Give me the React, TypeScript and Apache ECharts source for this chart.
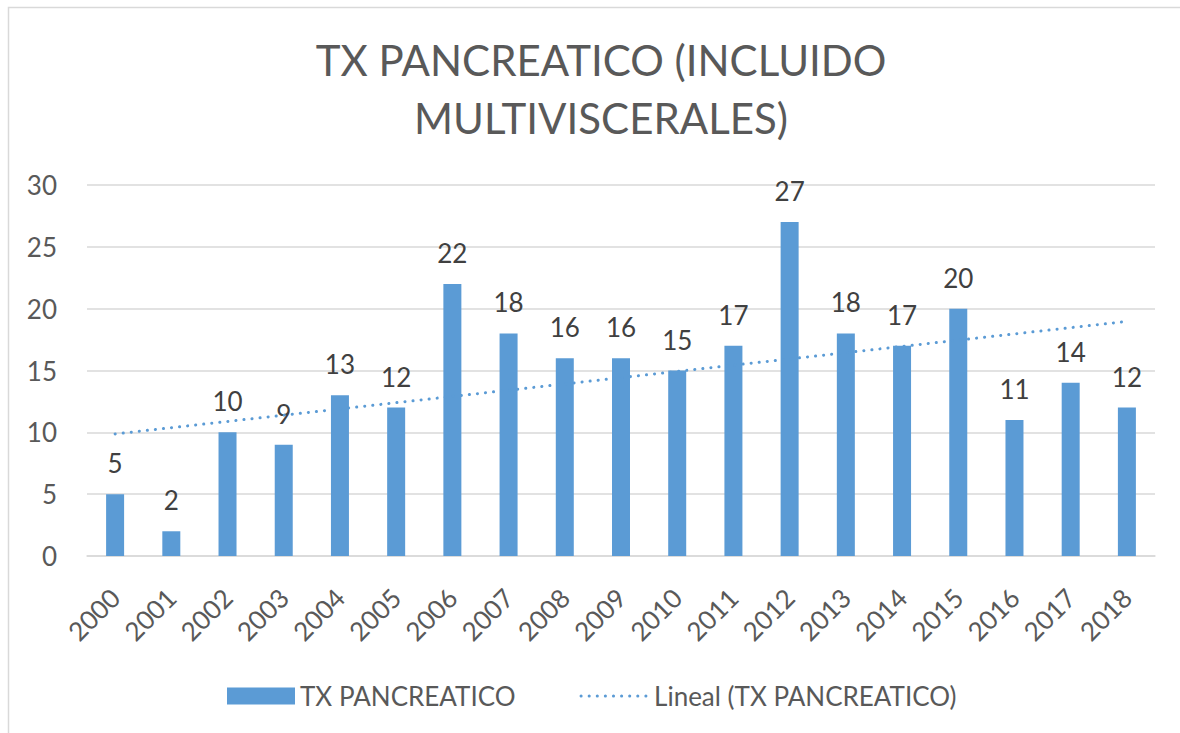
import React, { useEffect, useRef } from "react";
import * as echarts from "echarts";

const years = ["2000","2001","2002","2003","2004","2005","2006","2007","2008","2009","2010","2011","2012","2013","2014","2015","2016","2017","2018"];
const values = [5, 2, 10, 9, 13, 12, 22, 18, 16, 16, 15, 17, 27, 18, 17, 20, 11, 14, 12];
// Linear trendline endpoints (first and last category)
const trendStart = 9.87;
const trendEnd = 18.97;
const yTicks = { min: 0, max: 30, interval: 5 };

const FONT = "Lato";
const BLUE = "#5B9BD5";

export default function App() {
  const ref = useRef<HTMLDivElement>(null);
  useEffect(() => {
    if (!ref.current) return;
    const chart = echarts.init(ref.current, null, { renderer: "svg" });
    const trend = years.map((_, i) => (i === 0 ? trendStart : i === years.length - 1 ? trendEnd : null));
    const dotted = { color: BLUE, width: 3, type: [0.1, 8], cap: "round" };
    chart.setOption({
      animation: false,
      backgroundColor: "#ffffff",
      textStyle: { fontFamily: FONT },
      title: {
        text: "TX PANCREATICO (INCLUIDO\nMULTIVISCERALES)",
        left: 596,
        textAlign: "center",
        top: 26,
        textStyle: { fontFamily: FONT, fontSize: 42, fontWeight: "normal", color: "#595959", lineHeight: 58 },
      },
      graphic: [
        {
          type: "rect",
          shape: { x: 8.5, y: 7.5, width: 1400, height: 1000 },
          style: { fill: "none", stroke: "#d9d9d9", lineWidth: 1.5 },
          silent: true,
        },
      ],
      legend: {
        left: 222,
        top: 678,
        itemWidth: 68,
        itemHeight: 17,
        itemGap: 64,
        textStyle: { fontFamily: FONT, fontSize: 26, color: "#595959" },
        data: [
          { name: "TX PANCREATICO", icon: "rect" },
          {
            name: "Lineal (TX PANCREATICO)",
            itemStyle: { opacity: 0 },
            lineStyle: { color: BLUE, width: 3, type: [0.1, 8], cap: "round" },
          },
        ],
      },
      grid: { left: 87, right: 25, top: 185, bottom: 177 },
      xAxis: {
        type: "category",
        data: years,
        axisTick: { show: false },
        axisLine: { lineStyle: { color: "#d9d9d9", width: 1.5 } },
        axisLabel: { rotate: 45, interval: 0, margin: 37, fontSize: 26, color: "#595959", fontFamily: FONT },
      },
      yAxis: {
        type: "value",
        min: yTicks.min,
        max: yTicks.max,
        interval: yTicks.interval,
        axisLine: { show: false },
        axisTick: { show: false },
        splitLine: { lineStyle: { color: "#d9d9d9", width: 1.5 } },
        axisLabel: { margin: 30, fontSize: 26, color: "#595959", fontFamily: FONT },
      },
      series: [
        {
          name: "TX PANCREATICO",
          type: "bar",
          data: values,
          barWidth: 18,
          itemStyle: { color: BLUE },
          label: { show: true, position: "top", distance: 18, fontSize: 26, color: "#404040", fontFamily: FONT },
        },
        {
          name: "Lineal (TX PANCREATICO)",
          type: "line",
          data: trend,
          connectNulls: true,
          symbol: "none",
          lineStyle: dotted,
          itemStyle: { color: BLUE },
          z: 3,
        },
      ],
    });
    return () => chart.dispose();
  }, []);
  return <div ref={ref} style={{ position: "fixed", left: 0, top: 0, width: 1180, height: 733 }} />;
}
